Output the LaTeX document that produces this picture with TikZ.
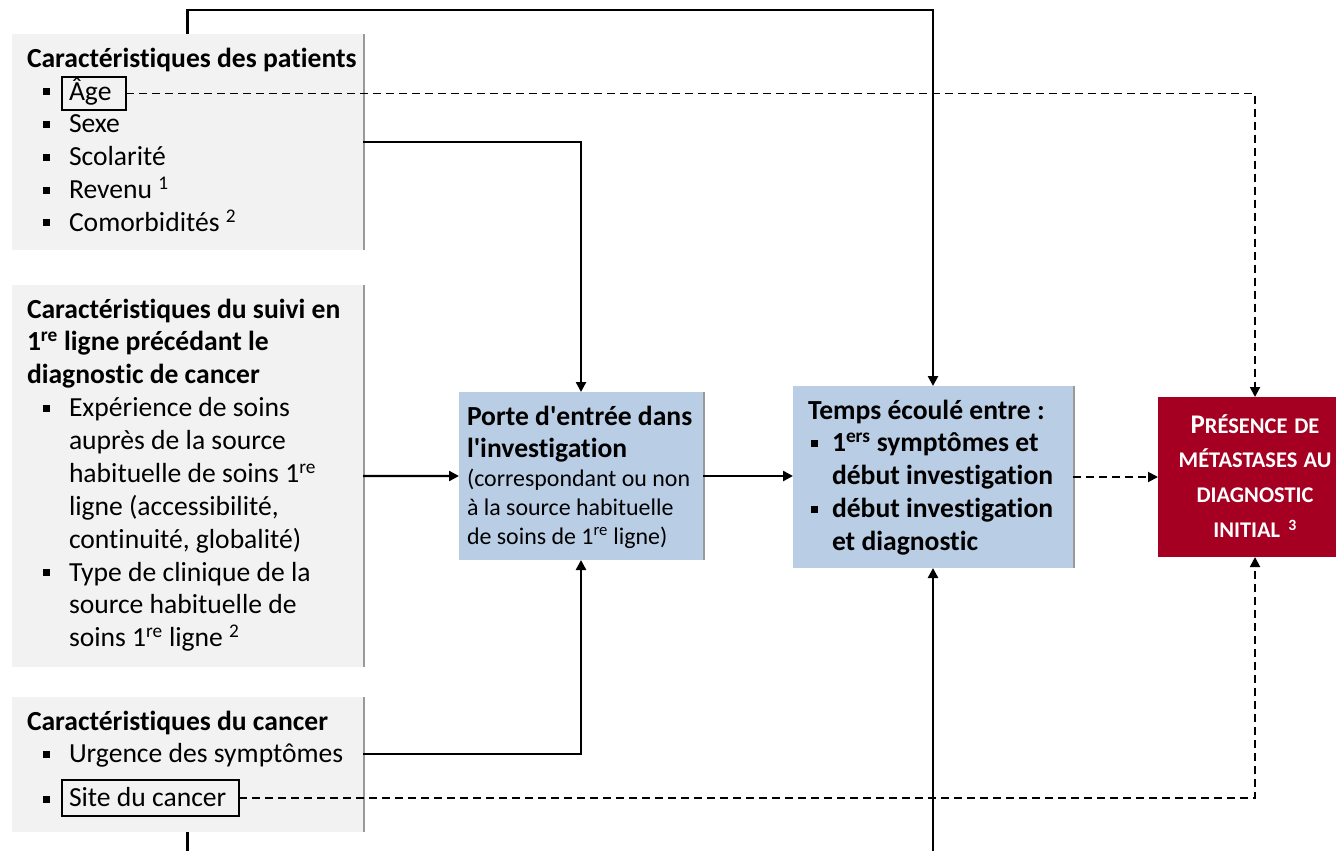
\documentclass[tikz,border=0pt]{standalone}
\usepackage{fontspec}
\setmainfont{Carlito}[Ligatures={TeX,CommonOff}]
\usepackage{tikz}
\usepackage{xcolor}
\usetikzlibrary{arrows.meta}
\usetikzlibrary{shadows}
\definecolor{boxColorA}{HTML}{F2F2F2}
\definecolor{boxColorB}{HTML}{B9CDE5}
\definecolor{boxColorC}{HTML}{A50021}
\definecolor{shadowColor}{HTML}{808080}
\definecolor{linkColor}{HTML}{000000}
\definecolor{labelTextColorC}{HTML}{FFFFFF}
\newcommand\nl{\hfil\break}
\newcommand\bulitem[2]{\par\noindent\hangindent=#2\hangafter=1\makebox[#2][l]{\hspace{#1}\rule[5bp]{7bp}{7bp}}}
\newcommand\bul{\bulitem{16bp}{42bp}}
\newcommand\bulT{\bulitem{3bp}{24bp}}
\newcommand\smc[1]{{\fontsize{22.5}{35}\selectfont #1}}
\def\textPat{\textbf{Caractéristiques des patients}\bul\mbox{}\bul Sexe\bul Scolarité\bul Revenu \textsuperscript{1}\bul Comorbidités \textsuperscript{2}\par}
\def\textSuivi{\textbf{Caractéristiques du suivi en\nl 1\textsuperscript{re} ligne précédant le\nl diagnostic de cancer}\bul Expérience de soins\nl auprès de la source\nl habituelle de soins 1\textsuperscript{re}\nl ligne (accessibilité,\nl continuité, globalité)\bul Type de clinique de la\nl source habituelle de\nl soins 1\textsuperscript{re} ligne \textsuperscript{2}\par}
\def\textCanc{\textbf{Caractéristiques du cancer}\bul Urgence des symptômes\par\vspace{12bp}\bul\mbox{}\par}
\def\textPorte{\textbf{Porte d\textquotesingle entrée dans\nl l\textquotesingle investigation}\par{\fontsize{24}{29}\selectfont(correspondant ou non\nl à la source habituelle\nl de soins de 1\textsuperscript{re} ligne)\par}}
\def\textTemps{Temps écoulé entre :\bulT 1\textsuperscript{ers} symptômes et\nl début investigation\bulT début investigation\nl et diagnostic\par}
\def\textPres{{\fontsize{27}{35}\selectfont P}\smc{RÉSENCE DE}\\\smc{MÉTASTASES AU}\\\smc{DIAGNOSTIC}\\\smc{INITIAL \textsuperscript{3}}}

\begin{document}
\begin{tikzpicture}[x=1bp,y=-1bp,
greyBox/.style={fill=boxColorA, inner sep=0pt, outer sep=0pt, anchor=north west,
drop shadow={shadow xshift=2bp, shadow yshift=0bp, fill=shadowColor, opacity=0.8}},
blueBox/.style={greyBox, fill=boxColorB},
redBox/.style={fill=boxColorC, inner sep=0pt, outer sep=0pt, anchor=north west},
txt/.style={inner sep=0pt, outer sep=0pt, align=left, anchor=base west,
font=\fontsize{27.7}{33}\selectfont,
execute at begin node={\spaceskip=0pt\xspaceskip=0pt}},
wordBox/.style={txt, draw=black, line width=1.3bp, inner xsep=7bp, inner ysep=4bp,
text height=19bp, text depth=6bp},
link/.style={draw=linkColor, line width=2.4bp, -{Triangle[length=10bp, width=10bp]}},
dashLink/.style={link, line width=1.9bp, dash pattern=on 8bp off 5bp}]

\useasboundingbox (0, 0) rectangle (1336, 850);
\clip (0, 0) rectangle (1336, 850);

% box layer
\begin{scope}
\node[greyBox, minimum width=351bp, minimum height=216bp] (pat) at (12, 34) {};
\node[greyBox, minimum width=351bp, minimum height=382bp] (suivi) at (12, 285) {};
\node[greyBox, minimum width=351bp, minimum height=135bp] (canc) at (12, 697) {};
\node[blueBox, minimum width=244bp, minimum height=168bp] (porte) at (459, 392) {};
\node[blueBox, minimum width=280bp, minimum height=182bp] (temps) at (793, 386) {};
\node[redBox, minimum width=194bp, minimum height=160bp] (pres) at (1158, 397) {};
\end{scope}

% text layer
\begin{scope}
\node[txt, text width=400bp] (patT) at (27, 67) {\textPat};
\node[txt, text width=400bp] (suiviT) at (27, 318) {\textSuivi};
\node[txt, text width=400bp] (cancT) at (27, 730) {\textCanc};
\node[txt, text width=300bp] (porteT) at (467, 425) {\textPorte};
\node[txt, text width=300bp, font=\fontsize{27.7}{33}\selectfont\bfseries] (tempsT) at (808, 419) {\textTemps};
\node[txt, text width=194bp, align=center, anchor=base, text=labelTextColorC,
font=\fontsize{22.5}{35}\selectfont\bfseries] (presT) at (1255, 433) {\textPres};
\node[wordBox, text width=50bp] (age) at (62, 100) {Âge};
\node[wordBox, text width=163bp, text height=22bp] (site) at (62, 806) {Site du cancer};
\end{scope}

% link layer
\begin{scope}
\draw[link] (pat.north) -- ++(0, -24) -| (temps.north);
\draw[link] (pat.east) -| (porte.north);
\draw[link] (suivi.east) -- (porte.west);
\draw[link] ([yshift=10.5bp]canc.east) -| (porte.south);
\draw[link] (porte.east) -- (porte.east -| temps.west);
\draw[link] (canc.south) -- ++(0, 40) -| (temps.south);
\draw[dashLink] (temps.east) -- (temps.east -| pres.west);
\draw[dashLink] (age.east) -| (pres.north);
\draw[dashLink] (site.east) -| (pres.south);
\end{scope}

\end{tikzpicture}
\end{document}
